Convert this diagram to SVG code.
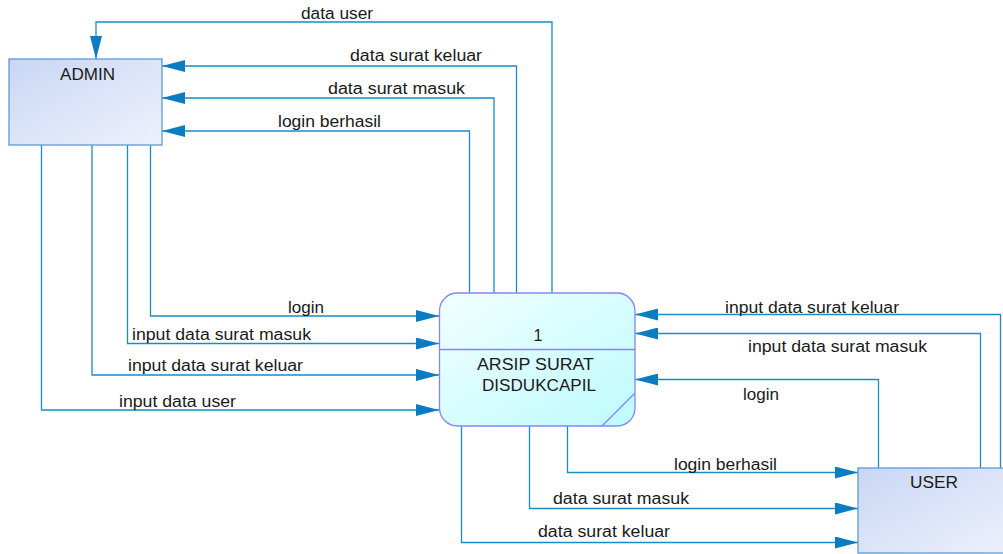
<svg xmlns="http://www.w3.org/2000/svg" width="1003" height="554" viewBox="0 0 1003 554">
  <defs>
    <linearGradient id="gEnt" x1="0" y1="0" x2="1" y2="1">
      <stop offset="0" stop-color="#c9d7f4"/>
      <stop offset="1" stop-color="#eef1fd"/>
    </linearGradient>
    <linearGradient id="gProc" x1="0" y1="0" x2="1" y2="1">
      <stop offset="0" stop-color="#f2ffff"/>
      <stop offset="1" stop-color="#bdfbfd"/>
    </linearGradient>
    <marker id="arr" markerUnits="userSpaceOnUse" markerWidth="23" markerHeight="12" refX="23" refY="6" orient="auto">
      <path d="M0,0 L23,6 L0,12 z" fill="#0a7dc2"/>
    </marker>
  </defs>
  <style>
    .t { font-family: "Liberation Sans", Arial, sans-serif; font-size: 16px; fill: #1a1a1a; }
    .c { fill: none; stroke: #1b8bc8; stroke-width: 1.3; marker-end: url(#arr); }
    .ent { fill: url(#gEnt); stroke: #5d9ad6; stroke-width: 1.3; }
  </style>
  <rect width="1003" height="554" fill="#ffffff"/>

  <g id="connectors">
    <path class="c" d="M150.5,145 V316 H439"/>
    <path class="c" d="M127.5,145 V343.5 H439"/>
    <path class="c" d="M92,145 V375 H439"/>
    <path class="c" d="M41.5,145 V410 H439"/>
    <path class="c" d="M469.5,293 V131 H162"/>
    <path class="c" d="M494,293 V98 H162"/>
    <path class="c" d="M516.5,293 V66 H162"/>
    <path class="c" d="M552,293 V22 H96 V59"/>
    <path class="c" d="M1000.5,468 V314.5 H635"/>
    <path class="c" d="M980.5,468 V333.5 H635"/>
    <path class="c" d="M878.5,468 V379.5 H635"/>
    <path class="c" d="M567.5,426 V472.5 H858"/>
    <path class="c" d="M529.5,426 V508.5 H858"/>
    <path class="c" d="M461.5,426 V542.5 H858"/>
    <text class="t" x="301" y="18.5" textLength="72" lengthAdjust="spacingAndGlyphs">data user</text>
    <text class="t" x="350" y="61" textLength="132" lengthAdjust="spacingAndGlyphs">data surat keluar</text>
    <text class="t" x="328" y="94" textLength="137" lengthAdjust="spacingAndGlyphs">data surat masuk</text>
    <text class="t" x="278" y="127" textLength="103" lengthAdjust="spacingAndGlyphs">login berhasil</text>
    <text class="t" x="288" y="313" textLength="36" lengthAdjust="spacingAndGlyphs">login</text>
    <text class="t" x="132" y="340" textLength="179" lengthAdjust="spacingAndGlyphs">input data surat masuk</text>
    <text class="t" x="128" y="370.5" textLength="175" lengthAdjust="spacingAndGlyphs">input data surat keluar</text>
    <text class="t" x="119" y="407" textLength="117" lengthAdjust="spacingAndGlyphs">input data user</text>
    <text class="t" x="725" y="313" textLength="174" lengthAdjust="spacingAndGlyphs">input data surat keluar</text>
    <text class="t" x="748" y="352" textLength="179" lengthAdjust="spacingAndGlyphs">input data surat masuk</text>
    <text class="t" x="743" y="400" textLength="36" lengthAdjust="spacingAndGlyphs">login</text>
    <text class="t" x="674" y="470" textLength="103" lengthAdjust="spacingAndGlyphs">login berhasil</text>
    <text class="t" x="553" y="503.5" textLength="136" lengthAdjust="spacingAndGlyphs">data surat masuk</text>
    <text class="t" x="538" y="537" textLength="132" lengthAdjust="spacingAndGlyphs">data surat keluar</text>
  </g>

  <g id="admin">
    <rect class="ent" x="9" y="59" width="153" height="86"/>
    <text class="t" x="60" y="80" textLength="55" lengthAdjust="spacingAndGlyphs">ADMIN</text>
  </g>

  <g id="process">
    <rect x="439.5" y="293" width="195.5" height="133" rx="18" ry="18" fill="url(#gProc)" stroke="#8585f5" stroke-width="1.3"/>
    <line x1="439.5" y1="349.5" x2="635" y2="349.5" stroke="#8585f5" stroke-width="1.3"/>
    <line x1="635" y1="393" x2="602" y2="426" stroke="#8585f5" stroke-width="1.3"/>
    <text class="t" x="538" y="341" text-anchor="middle">1</text>
    <text class="t" x="477" y="370" textLength="117" lengthAdjust="spacingAndGlyphs">ARSIP SURAT</text>
    <text class="t" x="482" y="391" textLength="114" lengthAdjust="spacingAndGlyphs">DISDUKCAPIL</text>
  </g>

  <g id="user">
    <rect class="ent" x="858" y="468" width="160" height="85"/>
    <text class="t" x="910" y="488" textLength="48" lengthAdjust="spacingAndGlyphs">USER</text>
  </g>
</svg>
